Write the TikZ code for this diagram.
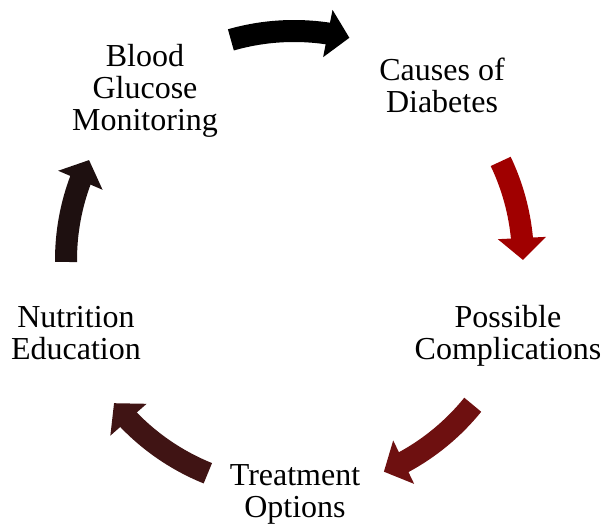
\documentclass[tikz,border=0pt]{standalone}
\usepackage{fontspec}
\setmainfont{Liberation Serif}
\usetikzlibrary{arrows.meta, bending, calc}

\definecolor{arrowred}{RGB}{160,0,0}
\definecolor{arrowmaroon}{RGB}{110,16,16}
\definecolor{arrowbrown}{RGB}{64,20,20}
\definecolor{arrowdark}{RGB}{30,16,16}

\begin{document}
\begin{tikzpicture}[
    x=1pt, y=1pt,
    stage/.style={align=center, inner sep=0pt, font=\fontsize{32}{32}\selectfont},
    cyclearrow/.style={line width=22pt, -{Triangle[length=22pt, width=47pt, flex]}}
]
\useasboundingbox (0,0) rectangle (608,523);

% centre of the cycle
\coordinate (ctr) at (294,263);

% Stages
\node[stage] (monitor) at (145,432) {Blood\\Glucose\\Monitoring};
\node[stage] (causes) at (442,438) {Causes of\\Diabetes};
\node[stage] (complic) at (508,187) {Possible\\Complications};
\node[stage] (treat) at (295,29) {Treatment\\Options};
\node[stage] (nutri) at (76,190) {Nutrition\\Education};

% Curved arrows round the cycle
\draw[cyclearrow, black] ($(ctr)+(106:229)$) arc[start angle=106, end angle=76, radius=229];
\draw[cyclearrow, arrowred] ($(ctr)+(25.5:229)$) arc[start angle=25.5, end angle=0, radius=229];
\draw[cyclearrow, arrowmaroon] ($(ctr)+(-39:230)$) arc[start angle=-39, end angle=-67, radius=230];
\draw[cyclearrow, arrowbrown] ($(ctr)+(248:230)$) arc[start angle=248, end angle=218.5, radius=230];
\draw[cyclearrow, arrowdark] ($(ctr)+(180.5:228)$) arc[start angle=180.5, end angle=154, radius=228];

\end{tikzpicture}
\end{document}
